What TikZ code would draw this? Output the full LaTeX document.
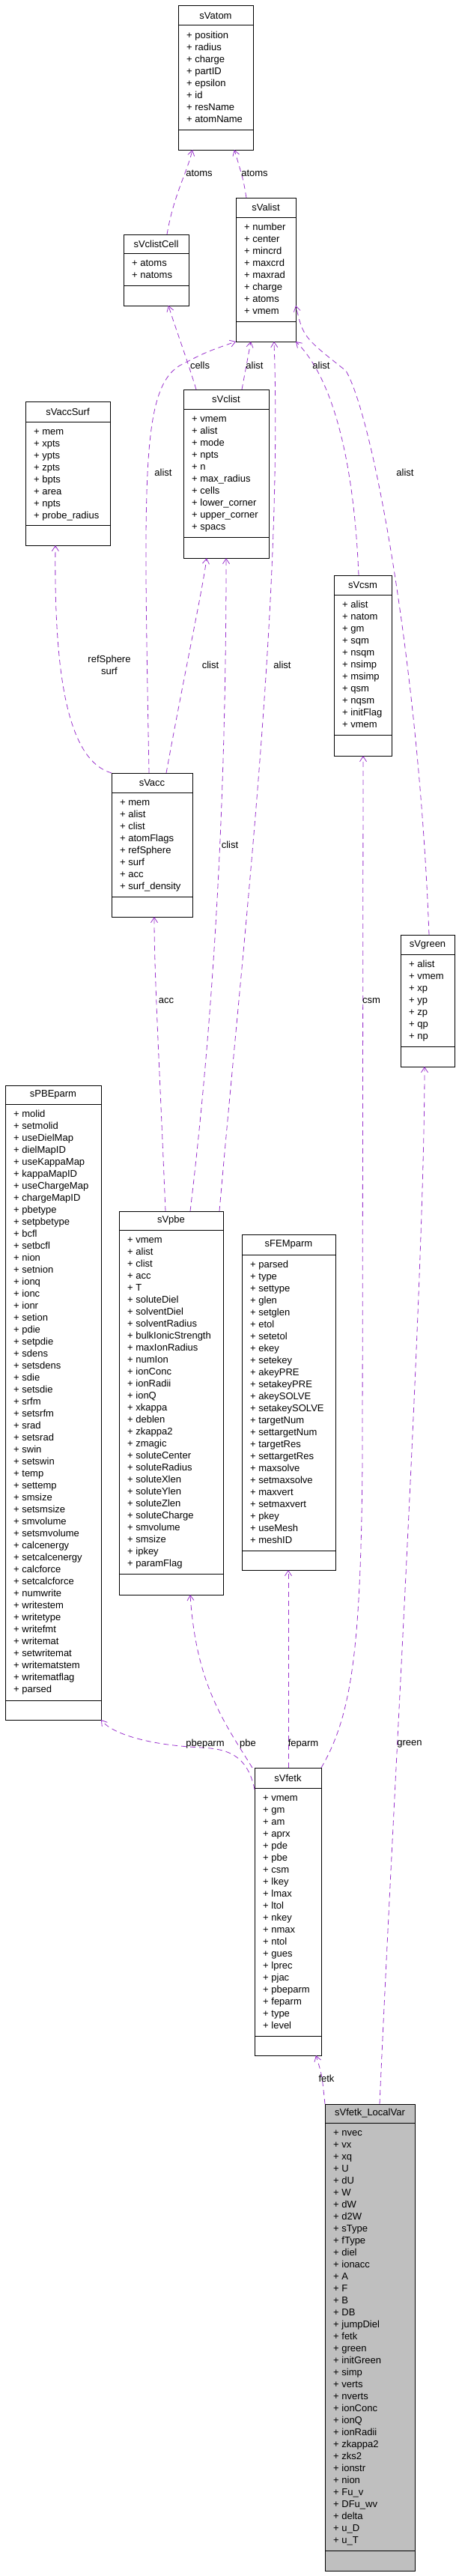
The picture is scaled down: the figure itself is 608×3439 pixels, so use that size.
\documentclass[tikz,border=0pt]{standalone}
\usepackage{fontspec}
\setmainfont{Liberation Sans}
\usetikzlibrary{arrows.meta}
\definecolor{EdgePurple}{HTML}{9A32CD}
\definecolor{BoxGray}{HTML}{BFBFBF}
\tikzset{
    classframe/.style={draw=black, line width=1pt, inner sep=0pt, outer sep=0pt},
    attrtext/.style={font=\fontsize{13}{16}\selectfont, align=left, inner sep=0pt, anchor=north west},
    titletext/.style={font=\fontsize{13}{16}\selectfont, inner sep=0pt},
    edgelabel/.style={font=\fontsize{13}{16}\selectfont, align=center, inner sep=0pt},
    dep/.style={draw=EdgePurple, dashed, dash pattern=on 7pt off 5pt, line width=0.8pt,
        -{Straight Barb[length=7pt, width=9pt, line width=0.8pt]}}
}
\def\boxcol{white}
% \classbox{name}{x1}{x2}{ytop}{div1}{div2}{ybot}{title}{attributes}
\newcommand{\classbox}[9]{
    \node[classframe, fill=\boxcol, minimum width={#3pt-#2pt}, minimum height={#7pt-#4pt}]
        (#1) at ({(#2+#3)/2},{(#4+#7)/2}) {};
    \draw[line width=1pt] (#2,#5) -- (#3,#5);
    \draw[line width=1pt] (#2,#6) -- (#3,#6);
    \node[titletext] at ({(#2+#3)/2},{(#4+#5)/2}) {#8};
    \node[attrtext] at ({#2+11},{#5+5.8}) {\strut#9};
}
\begin{document}
\begin{tikzpicture}[x=1pt, y=-1pt]
\useasboundingbox[fill=white] (0,0) rectangle (608,3439);

% Klassen
\classbox{sVatom}{238}{338}{8}{34}{173}{200}{sVatom}
    {+ position\\+ radius\\+ charge\\+ partID\\+ epsilon\\+ id\\+ resName\\+ atomName}
\classbox{sVclistCell}{165}{252}{313}{338}{381}{408}{sVclistCell}
    {+ atoms\\+ natoms}
\classbox{sValist}{315}{395}{264}{290}{429}{456}{sValist}
    {+ number\\+ center\\+ mincrd\\+ maxcrd\\+ maxrad\\+ charge\\+ atoms\\+ vmem}
\classbox{sVclist}{245}{359}{520}{546}{717}{745}{sVclist}
    {+ vmem\\+ alist\\+ mode\\+ npts\\+ n\\+ max\_radius\\+ cells\\+ lower\_corner\\+ upper\_corner\\+ spacs}
\classbox{sVaccSurf}{34}{147}{536}{563}{701}{728}{sVaccSurf}
    {+ mem\\+ xpts\\+ ypts\\+ zpts\\+ bpts\\+ area\\+ npts\\+ probe\_radius}
\classbox{sVcsm}{446}{523}{768}{794}{981}{1009}{sVcsm}
    {+ alist\\+ natom\\+ gm\\+ sqm\\+ nsqm\\+ nsimp\\+ msimp\\+ qsm\\+ nqsm\\+ initFlag\\+ vmem}
\classbox{sVacc}{149}{257}{1032}{1058}{1197}{1224}{sVacc}
    {+ mem\\+ alist\\+ clist\\+ atomFlags\\+ refSphere\\+ surf\\+ acc\\+ surf\_density}
\classbox{sVgreen}{535}{607}{1248}{1274}{1397}{1424}{sVgreen}
    {+ alist\\+ vmem\\+ xp\\+ yp\\+ zp\\+ qp\\+ np}
\classbox{sPBEparm}{7}{135}{1449}{1474}{2270}{2296}{sPBEparm}
    {+ molid\\+ setmolid\\+ useDielMap\\+ dielMapID\\+ useKappaMap\\+ kappaMapID\\+ useChargeMap\\+ chargeMapID\\+ pbetype\\+ setpbetype\\+ bcfl\\+ setbcfl\\+ nion\\+ setnion\\+ ionq\\+ ionc\\+ ionr\\+ setion\\+ pdie\\+ setpdie\\+ sdens\\+ setsdens\\+ sdie\\+ setsdie\\+ srfm\\+ setsrfm\\+ srad\\+ setsrad\\+ swin\\+ setswin\\+ temp\\+ settemp\\+ smsize\\+ setsmsize\\+ smvolume\\+ setsmvolume\\+ calcenergy\\+ setcalcenergy\\+ calcforce\\+ setcalcforce\\+ numwrite\\+ writestem\\+ writetype\\+ writefmt\\+ writemat\\+ setwritemat\\+ writematstem\\+ writematflag\\+ parsed}
\classbox{sVpbe}{159}{298}{1617}{1642}{2101}{2129}{sVpbe}
    {+ vmem\\+ alist\\+ clist\\+ acc\\+ T\\+ soluteDiel\\+ solventDiel\\+ solventRadius\\+ bulkIonicStrength\\+ maxIonRadius\\+ numIon\\+ ionConc\\+ ionRadii\\+ ionQ\\+ xkappa\\+ deblen\\+ zkappa2\\+ zmagic\\+ soluteCenter\\+ soluteRadius\\+ soluteXlen\\+ soluteYlen\\+ soluteZlen\\+ soluteCharge\\+ smvolume\\+ smsize\\+ ipkey\\+ paramFlag}
\classbox{sFEMparm}{323}{448}{1648}{1675}{2070}{2096}{sFEMparm}
    {+ parsed\\+ type\\+ settype\\+ glen\\+ setglen\\+ etol\\+ setetol\\+ ekey\\+ setekey\\+ akeyPRE\\+ setakeyPRE\\+ akeySOLVE\\+ setakeySOLVE\\+ targetNum\\+ settargetNum\\+ targetRes\\+ settargetRes\\+ maxsolve\\+ setmaxsolve\\+ maxvert\\+ setmaxvert\\+ pkey\\+ useMesh\\+ meshID}
\classbox{sVfetk}{340}{429}{2360}{2387}{2718}{2744}{sVfetk}
    {+ vmem\\+ gm\\+ am\\+ aprx\\+ pde\\+ pbe\\+ csm\\+ lkey\\+ lmax\\+ ltol\\+ nkey\\+ nmax\\+ ntol\\+ gues\\+ lprec\\+ pjac\\+ pbeparm\\+ feparm\\+ type\\+ level}
\def\boxcol{BoxGray}
\classbox{LocalVar}{434}{554}{2809}{2834}{3405}{3432}{sVfetk\_LocalVar}
    {+ nvec\\+ vx\\+ xq\\+ U\\+ dU\\+ W\\+ dW\\+ d2W\\+ sType\\+ fType\\+ diel\\+ ionacc\\+ A\\+ F\\+ B\\+ DB\\+ jumpDiel\\+ fetk\\+ green\\+ initGreen\\+ simp\\+ verts\\+ nverts\\+ ionConc\\+ ionQ\\+ ionRadii\\+ zkappa2\\+ zks2\\+ ionstr\\+ nion\\+ Fu\_v\\+ DFu\_wv\\+ delta\\+ u\_D\\+ u\_T}

% Beziehungen
\draw[dep] ([xshift=58pt]sVclistCell.north west) .. controls (232,260) and (250,230) .. ([xshift=19pt]sVatom.south west);
\draw[dep] ([xshift=14pt]sValist.north west) .. controls (325,240) .. ([xshift=75pt]sVatom.south west);
\draw[dep] ([xshift=17pt]sVclist.north west) .. controls (250,480) and (235,440) .. ([xshift=60pt]sVclistCell.south west);
\draw[dep] ([xshift=78pt]sVclist.north west) -- ([xshift=20pt]sValist.south west);
\draw[dep] ([xshift=50pt]sVacc.north west) .. controls (192,640) and (188,520) .. (240,488) .. controls (275,470) .. (sValist.south west);
\draw[dep] ([xshift=134pt]sVpbe.north west) .. controls (325,1250) and (378,800) .. ([xshift=51pt]sValist.south west);
\draw[dep] ([xshift=33pt]sVcsm.north west) .. controls (472,600) and (440,500) .. (sValist.south east);
\draw[dep] ([xshift=38pt]sVgreen.north west) .. controls (560,900) and (500,560) .. (462,495) .. controls (405,450) .. ([yshift=48pt]sValist.south east);
\draw[dep] (sVacc.north west) .. controls (90,1015) and (72,900) .. ([xshift=40pt]sVaccSurf.south west);
\draw[dep] ([xshift=73pt]sVacc.north west) .. controls (250,880) and (270,790) .. ([xshift=31pt]sVclist.south west);
\draw[dep] ([xshift=95pt]sVpbe.north west) .. controls (292,1300) and (302,1000) .. ([xshift=57pt]sVclist.south west);
\draw[dep] ([xshift=62pt]sVpbe.north west) .. controls (212,1400) and (206,1300) .. ([xshift=57pt]sVacc.south west);
\draw[dep] (sVfetk.north east) .. controls (470,2290) and (482,2200) .. (484,1950) -- ([xshift=39pt]sVcsm.south west);
\draw[dep] ([xshift=73pt]LocalVar.north west) .. controls (525,2400) and (567,1700) .. ([xshift=32pt]sVgreen.south west);
\draw[dep] ([yshift=-29pt]sVfetk.north west) .. controls (330,2340) and (300,2335) .. (270,2333) .. controls (200,2330) and (150,2315) .. (sPBEparm.south east);
\draw[dep] ([xshift=-3pt]sVfetk.north west) .. controls (300,2300) and (262,2250) .. ([xshift=95pt]sVpbe.south west);
\draw[dep] ([xshift=45pt]sVfetk.north west) -- ([xshift=62pt]sFEMparm.south west);
\draw[dep] (LocalVar.north west) .. controls (430,2770) .. ([xshift=82pt]sVfetk.south west);

% Beschriftungen
\node[edgelabel] at (266,231) {atoms};
\node[edgelabel] at (340,231) {atoms};
\node[edgelabel] at (267,488) {cells};
\node[edgelabel] at (340,488) {alist};
\node[edgelabel] at (429,488) {alist};
\node[edgelabel] at (218,631) {alist};
\node[edgelabel] at (541,631) {alist};
\node[edgelabel] at (146,888) {refSphere\\surf};
\node[edgelabel] at (281,888) {clist};
\node[edgelabel] at (377,888) {alist};
\node[edgelabel] at (307,1128) {clist};
\node[edgelabel] at (222,1336) {acc};
\node[edgelabel] at (496,1336) {csm};
\node[edgelabel] at (274,2328) {pbeparm};
\node[edgelabel] at (331,2328) {pbe};
\node[edgelabel] at (405,2328) {feparm};
\node[edgelabel] at (547,2328) {green};
\node[edgelabel] at (436,2775) {fetk};
\end{tikzpicture}
\end{document}
